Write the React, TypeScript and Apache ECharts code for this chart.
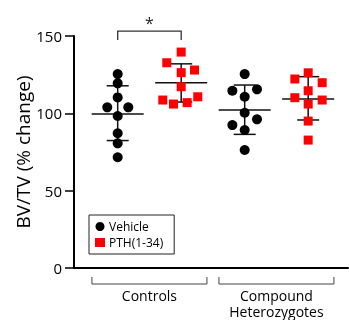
import { useEffect, useRef } from 'react';
import * as echarts from 'echarts';

// Group centres on the x value axis: Vehicle-Controls, PTH-Controls, Vehicle-Compound, PTH-Compound
const groupX = [1, 2, 3, 4];
const groupLabels = ['Controls', 'Compound\nHeterozygotes'];
const groupLabelX = [1.5, 3.5];

const vehicleControls = [125.4, 119.4, 110.3, 103.9, 103.9, 98.3, 87.1, 80.6, 71.6];
const vehicleControlsJitter = [0, 0, 0, -0.164, 0.167, 0, 0, 0, 0];
const pthControls = [139.6, 132.7, 128.0, 126.3, 117.2, 110.7, 108.6, 106.9, 106.0];
const pthControlsJitter = [0, -0.227, 0.21, 0, 0, 0.261, -0.29, 0.094, -0.121];
const vehicleCompound = [125.4, 115.5, 114.6, 110.7, 100.4, 96.1, 92.4, 89.2, 76.3];
const vehicleCompoundJitter = [0, 0.194, -0.194, 0, 0, 0.194, -0.194, 0, 0];
const pthCompound = [126.2, 122.2, 119.8, 114.6, 110.1, 108.6, 106.0, 95.0, 82.7];
const pthCompoundJitter = [0, -0.21, 0.22, 0, -0.21, 0.22, 0, 0, 0];

const means = [99.5, 119.8, 102.1, 109.2];
const lowers = [82.4, 107.3, 86.4, 95.7];
const uppers = [117.8, 132.0, 118.3, 123.7];

const sigPair = [1, 2];
const sigBracketY = 153.2;
const sigMark = '*';

const yTicks = { min: 0, max: 150, interval: 50 };

const FONT = 'Open Sans';

function pts(x: number, vals: number[], jit: number[]) {
  return vals.map((v, i) => [x + jit[i], v]);
}

export default function App() {
  const ref = useRef<HTMLDivElement>(null);
  useEffect(() => {
    if (!ref.current) return;
    const chart = echarts.init(ref.current, undefined, { renderer: 'svg' });
    const lineStyle = { stroke: '#111', lineWidth: 1.5 };
    chart.setOption({
      animation: false,
      textStyle: { fontFamily: FONT },
      grid: { left: 74, right: 1, top: 36, bottom: 52 },
      legend: {
        left: 89,
        top: 215,
        orient: 'vertical',
        data: ['Vehicle', 'PTH(1-34)'],
        borderColor: '#222',
        borderWidth: 1,
        borderRadius: 0,
        padding: [5, 11, 5, 6],
        itemGap: 3,
        itemWidth: 10,
        itemHeight: 9,
        textStyle: { fontSize: 12, lineHeight: 13, color: '#000', fontFamily: FONT, padding: [0, 0, 0, -1] },
      },
      xAxis: {
        type: 'value',
        min: 0.312,
        max: 4.627,
        axisLine: { show: true, onZero: false, lineStyle: { color: '#000', width: 2 } },
        axisTick: { show: false },
        axisLabel: { show: false },
        splitLine: { show: false },
      },
      yAxis: {
        type: 'value',
        min: yTicks.min,
        max: yTicks.max,
        interval: yTicks.interval,
        name: 'BV/TV (% change)',
        nameLocation: 'middle',
        nameGap: 42,
        nameMoveOverlap: false,
        nameTextStyle: { fontSize: 19, color: '#000', fontFamily: FONT },
        axisLine: { show: true, lineStyle: { color: '#000', width: 2 } },
        axisTick: { show: true, length: 9, lineStyle: { color: '#000', width: 1.5 } },
        axisLabel: { fontSize: 15, color: '#000', margin: 12, fontFamily: FONT },
        splitLine: { show: false },
      },
      series: [
        {
          type: 'custom',
          name: 'summary',
          clip: false,
          z: 1,
          data: groupX.map((x, i) => [x, means[i], lowers[i], uppers[i]]),
          renderItem: (_p: any, api: any) => {
            const x = api.value(0);
            const pm = api.coord([x, api.value(1)]);
            const pl = api.coord([x, api.value(2)]);
            const ph = api.coord([x, api.value(3)]);
            const half = 26;
            const cap = 11;
            return {
              type: 'group',
              children: [
                { type: 'line', shape: { x1: pm[0] - half, y1: pm[1], x2: pm[0] + half, y2: pm[1] }, style: lineStyle },
                { type: 'line', shape: { x1: pl[0], y1: pl[1], x2: ph[0], y2: ph[1] }, style: lineStyle },
                { type: 'line', shape: { x1: ph[0] - cap, y1: ph[1], x2: ph[0] + cap, y2: ph[1] }, style: lineStyle },
                { type: 'line', shape: { x1: pl[0] - cap, y1: pl[1], x2: pl[0] + cap, y2: pl[1] }, style: lineStyle },
              ],
            };
          },
        },
        {
          type: 'scatter',
          name: 'Vehicle',
          z: 3,
          symbol: 'circle',
          symbolSize: 10,
          itemStyle: { color: '#000', opacity: 1 },
          data: [
            ...pts(groupX[0], vehicleControls, vehicleControlsJitter),
            ...pts(groupX[2], vehicleCompound, vehicleCompoundJitter),
          ],
        },
        {
          type: 'scatter',
          name: 'PTH(1-34)',
          z: 3,
          symbol: 'rect',
          symbolSize: 9,
          itemStyle: { color: '#ff0000', opacity: 1 },
          data: [
            ...pts(groupX[1], pthControls, pthControlsJitter),
            ...pts(groupX[3], pthCompound, pthCompoundJitter),
          ],
        },
        {
          type: 'custom',
          name: 'significance',
          clip: false,
          z: 2,
          data: [[sigPair[0], sigPair[1], sigBracketY]],
          renderItem: (_p: any, api: any) => {
            const a = api.coord([api.value(0), api.value(2)]);
            const b = api.coord([api.value(1), api.value(2)]);
            const st = { stroke: '#333', lineWidth: 1.3, fill: 'none' };
            return {
              type: 'group',
              children: [
                { type: 'polyline', shape: { points: [[a[0], a[1] + 9], [a[0], a[1]], [b[0], b[1]], [b[0], b[1] + 9]] }, style: st },
                {
                  type: 'text',
                  x: (a[0] + b[0]) / 2,
                  y: a[1] - 8,
                  style: { text: sigMark, fontSize: 16, fill: '#222', align: 'center', verticalAlign: 'middle', fontFamily: FONT },
                },
              ],
            };
          },
        },
        {
          type: 'custom',
          name: 'groups',
          clip: false,
          z: 2,
          data: groupLabelX.map((x, i) => [x, 0, i]),
          renderItem: (_p: any, api: any) => {
            const c = api.coord([api.value(0), 0]);
            const label = groupLabels[api.value(2)];
            const half = 57.5;
            const yb = c[1] + 16;
            const st = { stroke: '#444', lineWidth: 1, fill: 'none' };
            return {
              type: 'group',
              children: [
                { type: 'polyline', shape: { points: [[c[0] - half, yb - 7], [c[0] - half, yb], [c[0] + half, yb], [c[0] + half, yb - 7]] }, style: st },
                {
                  type: 'text',
                  x: c[0],
                  y: yb + 3,
                  style: { text: label, fontSize: 14, lineHeight: 16, fill: '#000', align: 'center', verticalAlign: 'top', fontFamily: FONT },
                },
              ],
            };
          },
        },
      ],
    });
    return () => chart.dispose();
  }, []);
  return <div ref={ref} style={{ position: 'fixed', left: 0, top: 0, width: 349, height: 320 }} />;
}
